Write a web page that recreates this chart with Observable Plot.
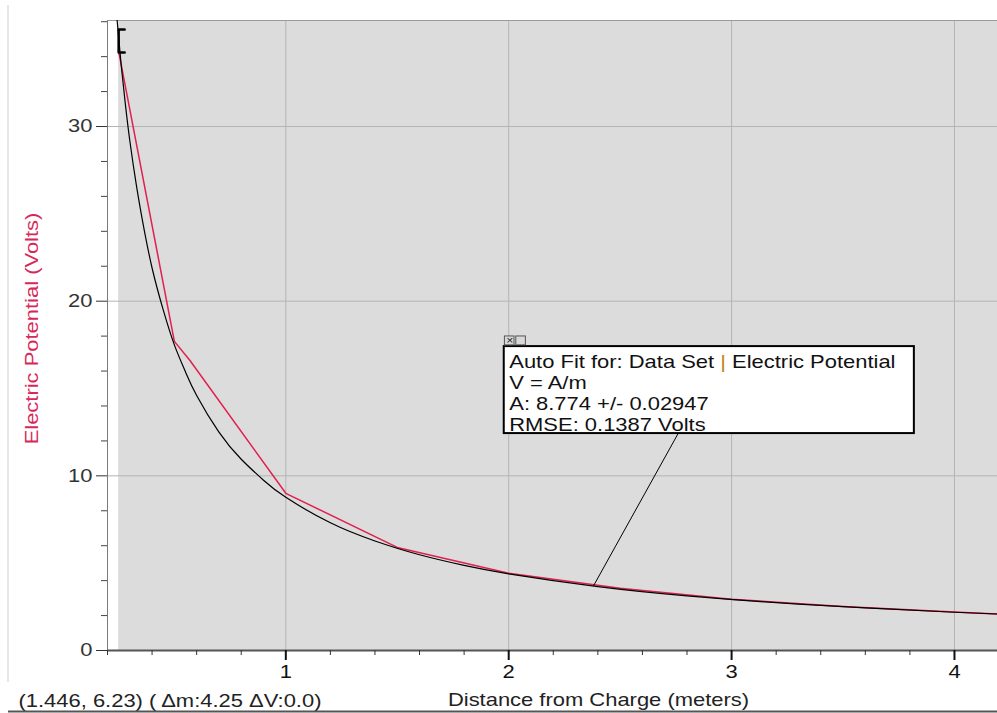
<!DOCTYPE html>
<html><head><meta charset="utf-8">
<script src="https://cdn.jsdelivr.net/npm/d3@7"></script>
<script src="https://cdn.jsdelivr.net/npm/@observablehq/plot@0.6"></script>
<style>
html,body{margin:0;padding:0;background:#fff;}
#chart{position:relative;width:997px;height:713px;overflow:hidden;}
</style></head><body><div id="chart"></div>
<script>
// Measured data set (red)
const measuredDistance = [0.25, 0.5, 0.57, 1.0, 1.5, 2.0, 2.5, 3.0, 3.5, 4.0, 4.193];
const measuredPotential = [34.3, 17.7, 16.6, 9.0, 5.9, 4.42, 3.57, 2.94, 2.52, 2.2, 2.09];
// Auto-fit curve (black)
const fitDistance = [0.243, 0.26, 0.28, 0.3, 0.33, 0.36, 0.4, 0.45, 0.5, 0.55, 0.6, 0.7, 0.8, 0.9, 1.0, 1.2, 1.4, 1.6, 1.8, 2.0, 2.4, 2.8, 3.2, 3.6, 4.0, 4.193];
const fitPotential = [36.1, 33.7, 31.3, 29.2, 26.6, 24.4, 21.9, 19.5, 17.5, 15.95, 14.6, 12.5, 10.95, 9.75, 8.77, 7.31, 6.27, 5.48, 4.87, 4.39, 3.66, 3.13, 2.74, 2.44, 2.19, 2.09];
// Axes
const xDomain = [0.2, 4.193];
const yDomain = [0, 36.07];
const xMajorTicks = [1, 2, 3, 4];
const xMinorTicks = [0.2, 0.4, 0.6, 0.8, 1.2, 1.4, 1.6, 1.8, 2.2, 2.4, 2.6, 2.8, 3.2, 3.4, 3.6, 3.8];
const yMajorTicks = [0, 10, 20, 30];
const yMinorTicks = [2, 4, 6, 8, 12, 14, 16, 18, 22, 24, 26, 28, 32, 34, 36];
const xLabel = "Distance from Charge (meters)";
const yLabel = "Electric Potential (Volts)";
const statusText = "(1.446, 6.23) ( \u0394m:4.25 \u0394V:0.0)";
// Fit range (shaded) and bracket
const fitRangeStart = [0.25];
const bracketX = [0.277, 0.25, 0.25, 0.277];
const bracketY = [35.55, 35.55, 34.24, 34.24];
// Fit annotation
const cursorPoint = [2.38, 3.69];
const leaderTop = [2.76];
const fitBoxX = [1.98, 3.82];
const fitBoxY = [12.42, 17.40];
const fitText = ["Auto Fit for: Data Set | Electric Potential", "V = A/m", "A: 8.774 +/- 0.02947", "RMSE: 0.1387 Volts"];
const iconX = [[1.983, 2.026], [2.034, 2.077]];
const iconY = [17.47, 17.98];
const iconGlyphs = ["\u00d7", "_"];

const measured = measuredDistance.map((x, i) => ({x, y: measuredPotential[i]}));
const fit = fitDistance.map((x, i) => ({x, y: fitPotential[i]}));
const bracket = bracketX.map((x, i) => ({x, y: bracketY[i]}));

const plot = Plot.plot({
  width: 997, height: 713,
  marginLeft: 107, marginRight: 0, marginTop: 20, marginBottom: 63,
  style: {fontFamily: "'Liberation Sans', Arial, sans-serif", fontSize: "18px", background: "#fff", overflow: "visible"},
  x: {domain: xDomain, label: null},
  y: {domain: yDomain, label: null},
  marks: [
    Plot.rect([0], {x1: () => fitRangeStart[0], x2: () => xDomain[1], y1: () => yDomain[0], y2: () => yDomain[1], fill: "#dcdcdc"}),
    Plot.gridX(xMajorTicks, {stroke: "#b4b4b4", strokeOpacity: 1}),
    Plot.gridY(yMajorTicks.filter(d => d > 0), {stroke: "#b4b4b4", strokeOpacity: 1}),
    Plot.ruleY([yDomain[1]], {stroke: "#9a9a9a"}),
    Plot.ruleX([xDomain[0]], {stroke: "#7a7a7a"}),
    Plot.ruleY([0], {stroke: "#555", strokeWidth: 2}),
    Plot.axisY(yMinorTicks, {tickSize: 6, tickFormat: () => "", color: "#444", label: null}),
    Plot.axisY(yMajorTicks, {tickSize: 11, tickPadding: 4, tickFormat: d => String(d), color: "#333", label: null}),
    Plot.axisX(xMinorTicks, {tickSize: 5, tickFormat: () => "", color: "#333", label: null}),
    Plot.axisX(xMajorTicks, {tickSize: 10, tickPadding: 5, tickFormat: d => String(d), strokeWidth: 2, color: "#111", label: null}),
    Plot.line(measured, {x: "x", y: "y", stroke: "#e0204e", strokeWidth: 1.5}),
    Plot.line(fit, {x: "x", y: "y", stroke: "#000", strokeWidth: 1.2, curve: "natural", clip: true}),
    Plot.line(bracket, {x: "x", y: "y", stroke: "#000", strokeWidth: 2.5}),
    Plot.link([0], {x1: () => cursorPoint[0], y1: () => cursorPoint[1], x2: () => leaderTop[0], y2: () => fitBoxY[0], stroke: "#000", strokeWidth: 1}),
    Plot.rect([0], {x1: () => fitBoxX[0], x2: () => fitBoxX[1], y1: () => fitBoxY[0], y2: () => fitBoxY[1], fill: "#fff", stroke: "#000", strokeWidth: 2}),
    Plot.rect(iconX, {x1: d => d[0], x2: d => d[1], y1: () => iconY[0], y2: () => iconY[1], fill: "#d8d8d8", stroke: "#555", strokeWidth: 1}),
    Plot.text(iconX, {x: d => (d[0] + d[1]) / 2, y: () => (iconY[0] + iconY[1]) / 2, text: (d, i) => iconGlyphs[i], fontSize: 10, fill: "#222"}),
    Plot.text([fitText.join("\n")], {x: () => fitBoxX[0], y: () => fitBoxY[1], text: d => d, dx: 5, dy: 6, textAnchor: "start", lineAnchor: "top", lineHeight: 1.17, fill: "#111"}),
    Plot.text([yLabel], {frameAnchor: "left", text: d => d, dx: -70, dy: -7, rotate: -90, textAnchor: "middle", lineAnchor: "bottom", fill: "#d8285a"}),
    Plot.text([xLabel], {frameAnchor: "bottom", text: d => d, dx: 46, dy: 55, textAnchor: "middle", lineAnchor: "bottom", fill: "#222"}),
    Plot.text([statusText], {frameAnchor: "bottom-left", text: d => d, dx: -89, dy: 56, textAnchor: "start", lineAnchor: "bottom", fill: "#222"})
  ]
});

// Colour the separator bar in the fit label
plot.querySelectorAll("tspan").forEach(ts => {
  const s = ts.textContent;
  if (s.includes(" | ")) {
    const [a, b] = s.split(" | ");
    ts.textContent = "";
    d3.select(ts).append("tspan").text(a + " ");
    d3.select(ts).append("tspan").attr("fill", "#c8801e").text("|");
    d3.select(ts).append("tspan").text(" " + b);
  }
});

// Wide (stretched) application font look
plot.querySelectorAll("text").forEach(t => {
  t.setAttribute("transform", (t.getAttribute("transform") || "") + " scale(1.22,1)");
});

// Window chrome
const svg = d3.select(plot);
svg.append("line").attr("x1", 8).attr("x2", 8).attr("y1", 5).attr("y2", 682).attr("stroke", "#cfcfcf");
svg.append("line").attr("x1", 8).attr("x2", 997).attr("y1", 711.5).attr("y2", 711.5).attr("stroke", "#555").attr("stroke-width", 2);

document.getElementById("chart").appendChild(plot);
</script>
</body></html>
